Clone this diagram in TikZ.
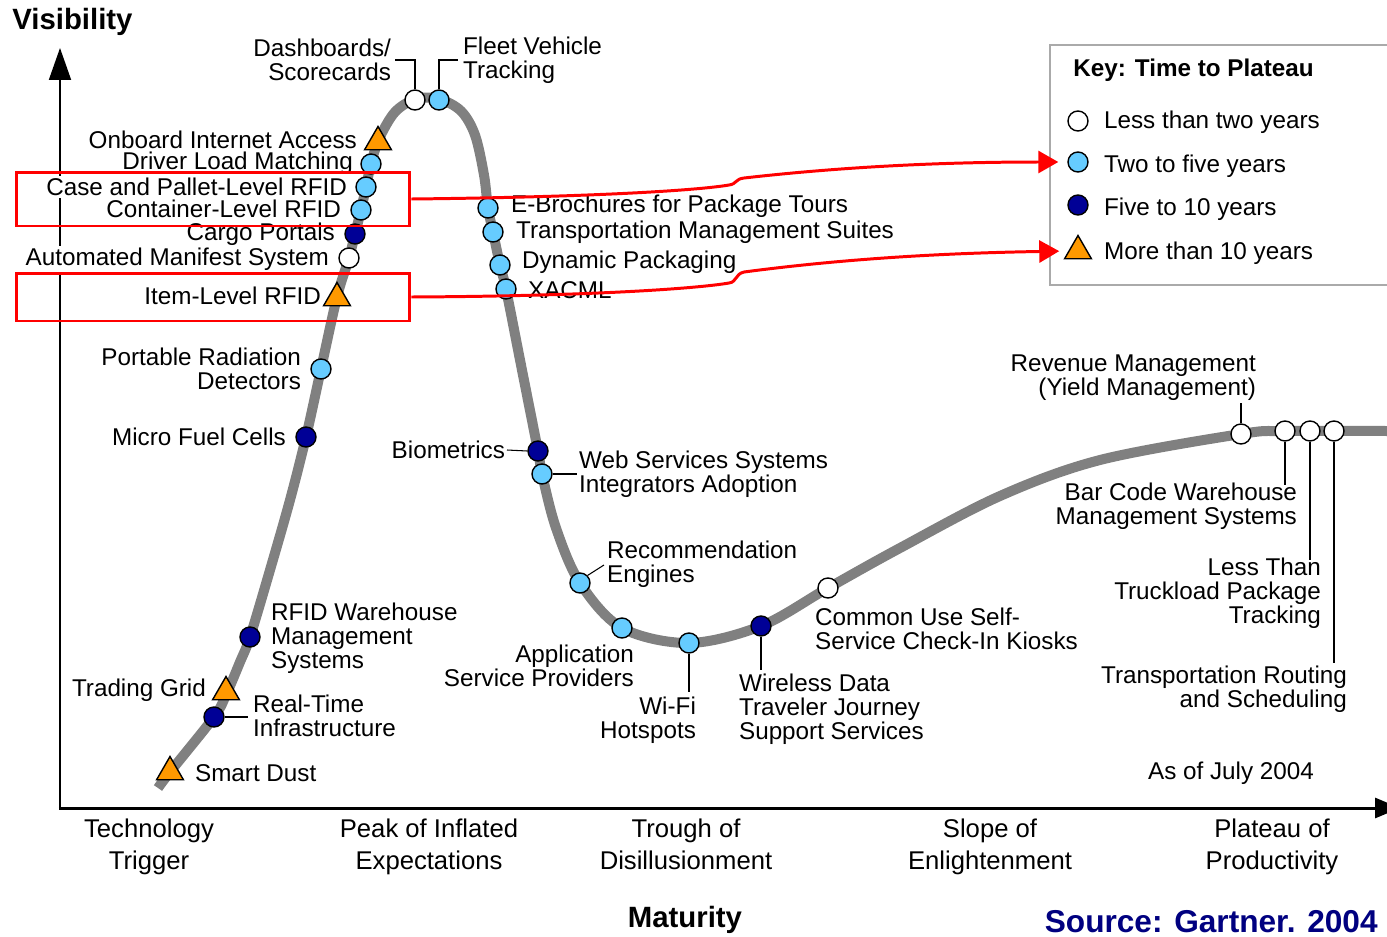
\documentclass[tikz,border=0pt]{standalone}
\usepackage{fontspec}
\setmainfont{Liberation Sans}
\usetikzlibrary{arrows.meta,shapes.geometric}
\definecolor{hcGray}{RGB}{128,128,128}
\definecolor{hcLight}{RGB}{102,204,255}
\definecolor{hcDark}{RGB}{0,0,150}
\definecolor{hcOrange}{RGB}{255,153,0}
\definecolor{hcNavy}{RGB}{0,0,128}
\definecolor{hcFrame}{RGB}{170,170,170}
\tikzset{
	lbl/.style={fill=white, inner sep=1pt, font=\fontsize{13.8}{13.7}\selectfont},
	lblL/.style={lbl, anchor=east, align=right},
	lblR/.style={lbl, anchor=west, align=left},
	phase/.style={anchor=north, align=center, inner sep=0pt, font=\fontsize{14.6}{18.2}\selectfont},
	pt/.style={circle, draw, line width=0.8pt, minimum size=0.4cm, inner sep=0pt},
	ptWhite/.style={pt, fill=white},
	ptLight/.style={pt, fill=hcLight},
	ptDark/.style={pt, fill=hcDark},
	ptTri/.style={regular polygon, regular polygon sides=3, draw, line width=0.8pt, fill=hcOrange, minimum size=0.62cm, inner sep=0pt},
	leader/.style={line width=0.6pt},
	hype/.style={line width=0.2cm, color=hcGray},
	redbox/.style={draw=red, line width=1.7pt, inner sep=0pt},
	redarrow/.style={draw=red, line width=1.7pt, -{Triangle[length=0.4cm,width=0.44cm]}, shorten >=0.18cm},
}

\begin{document}
\begin{tikzpicture}[x=0.02cm, y=-0.02cm]
		%%%%% START %%%%%
		\useasboundingbox (0,0) rectangle (1387,937);
		
		% axes
		\coordinate (origin) at (60,808);
		\coordinate (yTop) at (60,48);
		\coordinate (xEnd) at (1400,808);
		\draw[line width=1.1pt, -{Triangle[length=0.64cm,width=0.44cm]}] (origin) -- (yTop);
		\draw[line width=1.7pt, -{Triangle[length=0.5cm,width=0.4cm]}] ([xshift=-0.6pt]origin) -- (xEnd);
		\node[anchor=west, inner sep=0pt, font=\fontsize{16.7}{18}\selectfont\bfseries] (visib) at (12,22) {Visibility};
		\node[inner sep=0pt, font=\fontsize{16.7}{18}\selectfont\bfseries] (matur) at (685,920) {Maturity};
		
		% phases
		\node[phase] (trigger) at (149,819) {Technology\\Trigger};
		\node[phase] (peak) at (429,819) {Peak of Inflated\\Expectations};
		\node[phase] (trough) at (686,819) {Trough of\\Disillusionment};
		\node[phase] (slope) at (990,819) {Slope of\\Enlightenment};
		\node[phase] (plateau) at (1272,819) {Plateau of\\Productivity};
		
		% labels, rising side
		\node[lblL] (dashboardsL) at (393,60) {Dashboards/\\Scorecards};
		\node[lblR] (fleetTrackL) at (461,60) {Fleet Vehicle\\Tracking};
		\node[lblL] (onboardNetL) at (359,140) {Onboard Internet Access};
		\node[lblL] (driverLoadL) at (355,163) {Driver Load Matching};
		\node[lblL] (caseRfidL) at (349,187) {Case and Pallet-Level RFID};
		\node[lblL] (contRfidL) at (343,209) {Container-Level RFID};
		\node[lblL] (cargoPortalsL) at (337,234) {Cargo Portals};
		\node[lblL] (autoManifestL) at (331,259) {Automated Manifest System};
		\node[lblL] (itemRfidL) at (323,296) {Item-Level RFID};
		\node[lblL] (portRadL) at (303,369) {Portable Radiation\\Detectors};
		\node[lblL] (microFuelL) at (288,437) {Micro Fuel Cells};
		\node[lblR] (rfidWmsL) at (269,638) {RFID Warehouse\\Management\\Systems};
		\node[lblL] (tradingGridL) at (208,690) {Trading Grid};
		\node[lblR] (realTimeL) at (251,716) {Real-Time\\Infrastructure};
		\node[lblR] (smartDustL) at (193,773) {Smart Dust};
		
		% labels, falling side
		\node[lblR] (eBrochureL) at (509,206) {E-Brochures for Package Tours};
		\node[lblR] (tmsL) at (514,232) {Transportation Management Suites};
		\node[lblR] (dynPackL) at (520,262) {Dynamic Packaging};
		\node[lblR] (xacmlL) at (526,290) {XACML};
		\node[lblL] (biometricsL) at (507,450) {Biometrics};
		\node[lblR] (webServL) at (577,474) {Web Services Systems\\Integrators Adoption};
		\node[lblR] (recEnginesL) at (605,564) {Recommendation\\Engines};
		\node[lblL] (aspL) at (636,666) {Application\\Service Providers};
		\node[lblL] (wifiL) at (698,720) {Wi-Fi\\Hotspots};
		\node[lblR] (wirelessL) at (737,709) {Wireless Data\\Traveler Journey\\Support Services};
		
		% labels, slope and plateau
		\node[lblR] (commonUseL) at (813,629) {Common Use Self-\\Service Check-In Kiosks};
		\node[lblL] (revMgmtL) at (1258,378) {Revenue Management\\(Yield Management)};
		\node[lblL] (barCodeL) at (1299,506) {Bar Code Warehouse\\Management Systems};
		\node[lblL] (ltlTrackL) at (1323,593) {Less Than\\Truckload Package\\Tracking};
		\node[lblL] (routingL) at (1349,689) {Transportation Routing\\and Scheduling};
		\node[lblR] (asOf) at (1146,773) {As of July 2004};
		
		% the hype curve
		\draw[hype] plot[smooth, tension=0.55] coordinates {(158,788) (170,772) (214,717) (226,695) (240,662) (250,637) (270,570) (290,500) (306,437) (321,369) (337,297) (349,258) (355,234) (361,210) (366,187) (371,164) (379,139) (395,112) (416,99) (439,99) (461,111) (475,135) (484,175) (488,208) (493,232) (500,265) (506,289) (521,365) (538,451) (542,474) (556,528) (580,583) (622,628) (689,643) (761,626) (828,588) (900,548) (1000,496) (1100,460) (1241,434) (1285,431) (1387,431)};
		
		% markers
		\node[ptTri] (smartDust) at (170,772) {};
		\node[ptDark] (realTime) at (214,717) {};
		\node[ptTri] (tradingGrid) at (226,692) {};
		\node[ptDark] (rfidWms) at (250,637) {};
		\node[ptDark] (microFuel) at (306,437) {};
		\node[ptLight] (portRad) at (321,369) {};
		\node[ptTri] (itemRfid) at (337,298) {};
		\node[ptWhite] (autoManifest) at (349,258) {};
		\node[ptDark] (cargoPortals) at (355,234) {};
		\node[ptLight] (contRfid) at (361,210) {};
		\node[ptLight] (caseRfid) at (366,187) {};
		\node[ptLight] (driverLoad) at (371,164) {};
		\node[ptTri] (onboardNet) at (378,142) {};
		\node[ptWhite] (dashboards) at (415,100) {};
		\node[ptLight] (fleetTrack) at (439,100) {};
		\node[ptLight] (eBrochure) at (488,208) {};
		\node[ptLight] (tms) at (493,232) {};
		\node[ptLight] (dynPack) at (500,265) {};
		\node[ptLight] (xacml) at (506,289) {};
		\node[ptDark] (biometrics) at (538,451) {};
		\node[ptLight] (webServ) at (542,474) {};
		\node[ptLight] (recEngines) at (580,583) {};
		\node[ptLight] (asp) at (622,628) {};
		\node[ptLight] (wifi) at (689,643) {};
		\node[ptDark] (wireless) at (761,626) {};
		\node[ptWhite] (commonUse) at (828,588) {};
		\node[ptWhite] (revMgmt) at (1241,434) {};
		\node[ptWhite] (barCode) at (1285,431) {};
		\node[ptWhite] (ltlTrack) at (1310,431) {};
		\node[ptWhite] (routing) at (1334,431) {};
		
		% leaders
		\coordinate (dashEnd) at (395,60);
		\coordinate (fleetEnd) at (458,60);
		\coordinate (rtEnd) at (248,717);
		\coordinate (recEnd) at (604,565);
		\coordinate (wifiEnd) at (689,692);
		\coordinate (wirelessEnd) at (761,670);
		\coordinate (revEnd) at (1241,403);
		\coordinate (barEnd) at (1285,485);
		\coordinate (ltlEnd) at (1310,560);
		\coordinate (routEnd) at (1334,663);
		\draw[leader] (dashboards.north) |- (dashEnd);
		\draw[leader] (fleetTrack.north) |- (fleetEnd);
		\draw[leader] (realTime.east) -- (rtEnd);
		\draw[leader] (biometricsL.east) -- (biometrics.west);
		\draw[leader] (webServ.east) -- (webServL.west);
		\draw[leader] (recEngines.north east) -- (recEnd);
		\draw[leader] (wifi.south) -- (wifiEnd);
		\draw[leader] (wireless.south) -- (wirelessEnd);
		\draw[leader] (revMgmt.north) -- (revEnd);
		\draw[leader] (barCode.south) -- (barEnd);
		\draw[leader] (ltlTrack.south) -- (ltlEnd);
		\draw[leader] (routing.south) -- (routEnd);
		
		% key
		\draw[line width=1.2pt, color=hcFrame, fill=white] (1050,45) rectangle (1400,285);
		\node[anchor=west, inner sep=0pt, font=\fontsize{13.8}{16}\selectfont\bfseries] (keyTitle) at (1073,70) {Key: Time to Plateau};
		\node[ptWhite] (keyLess) at (1078,121) {};
		\node[ptLight] (keyTwo) at (1078,162) {};
		\node[ptDark] (keyFive) at (1078,205) {};
		\node[ptTri] (keyMore) at (1078,251) {};
		\node[lblR] (keyLessL) at (1102,122) {Less than two years};
		\node[lblR] (keyTwoL) at (1102,166) {Two to five years};
		\node[lblR] (keyFiveL) at (1102,209) {Five to 10 years};
		\node[lblR] (keyMoreL) at (1102,253) {More than 10 years};
		
		% highlights
		\node[redbox, minimum width=7.88cm, minimum height=1.08cm] (caseBox) at (213,199) {};
		\node[redbox, minimum width=7.88cm, minimum height=0.96cm] (itemBox) at (213,297) {};
		\draw[redarrow] (caseBox.east) .. controls (600,197) and (700,190) .. (729,185) .. controls (737,184) and (735,179) .. (744,178) .. controls (850,166) and (950,162) .. (keyTwo.west);
		\draw[redarrow] (itemBox.east) .. controls (600,296) and (700,288) .. (729,283) .. controls (737,282) and (735,274) .. (744,272) .. controls (850,258) and (950,253) .. (keyMore.west);
		
		\node[anchor=east, inner sep=0pt, color=hcNavy, font=\fontsize{18}{20}\selectfont\bfseries] (source) at (1378,922) {Source: Gartner. 2004};
		
		%%%%% END %%%%%
	\end{tikzpicture}
\end{document}
